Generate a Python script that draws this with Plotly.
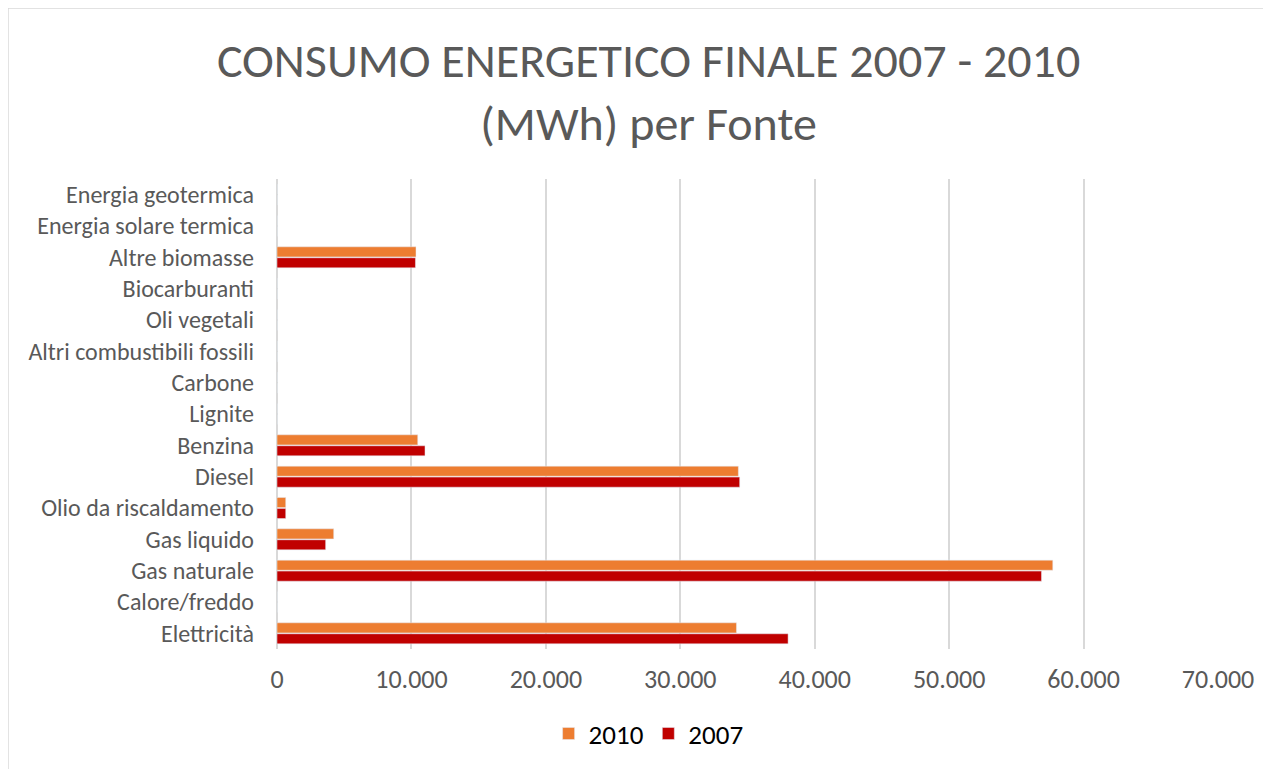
import plotly.graph_objects as go

categories = ["Elettricità", "Calore/freddo", "Gas naturale", "Gas liquido",
              "Olio da riscaldamento", "Diesel", "Benzina", "Lignite", "Carbone",
              "Altri combustibili fossili", "Oli vegetali", "Biocarburanti",
              "Altre biomasse", "Energia solare termica", "Energia geotermica"]
values_2010 = [34180, 0, 57710, 4220, 650, 34320, 10470, 0, 0, 0, 0, 0, 10340, 0, 0]
values_2007 = [38020, 0, 56870, 3620, 650, 34420, 11010, 0, 0, 0, 0, 0, 10300, 0, 0]
x_ticks = [0, 10000, 20000, 30000, 40000, 50000, 60000, 70000]

FONT = "Carlito, Calibri, 'Open Sans', sans-serif"
GREY = "#595959"

fig = go.Figure()
fig.add_trace(go.Bar(y=categories, x=values_2007, name="2007", orientation="h",
                     marker=dict(color="#C00000")))
fig.add_trace(go.Bar(y=categories, x=values_2010, name="2010", orientation="h",
                     marker=dict(color="#ED7D31")))

fig.update_layout(
    width=1271, height=769,
    paper_bgcolor="white", plot_bgcolor="white",
    separators=",.",
    barmode="group", bargap=0.3, bargroupgap=0.08,
    margin=dict(l=269, r=61, t=171, b=128),
    title=dict(text="CONSUMO ENERGETICO FINALE 2007 - 2010<br>(MWh) per Fonte",
               x=0.504, xanchor="center", y=0.91, yanchor="middle",
               font=dict(family=FONT, size=48, color=GREY)),
    font=dict(family=FONT, color=GREY, size=24),
    xaxis=dict(range=[0, 70000], tickvals=x_ticks, tickformat=",d",
               showgrid=True, gridcolor="#D9D9D9", gridwidth=1.5,
               zeroline=True, zerolinecolor="#D9D9D9", zerolinewidth=1.5,
               showline=False, ticks="", ticklabelstandoff=12,
               tickfont=dict(size=26, color=GREY)),
    yaxis=dict(type="category", categoryorder="array", categoryarray=categories,
               showgrid=False, showline=False, ticks="", ticklabelstandoff=22,
               tickfont=dict(size=24, color=GREY)),
    legend=dict(orientation="h", x=0.504, xref="container", xanchor="center",
                y=0.056, yref="container", yanchor="middle", traceorder="reversed",
                font=dict(size=27, color="#000000")),
    shapes=[dict(type="rect", xref="paper", yref="paper",
                 x0=-0.2859, x1=1.2, y0=-0.3, y1=1.3638,
                 line=dict(color="#D9D9D9", width=1.5), layer="below")],
)

fig.write_html("out.html")
